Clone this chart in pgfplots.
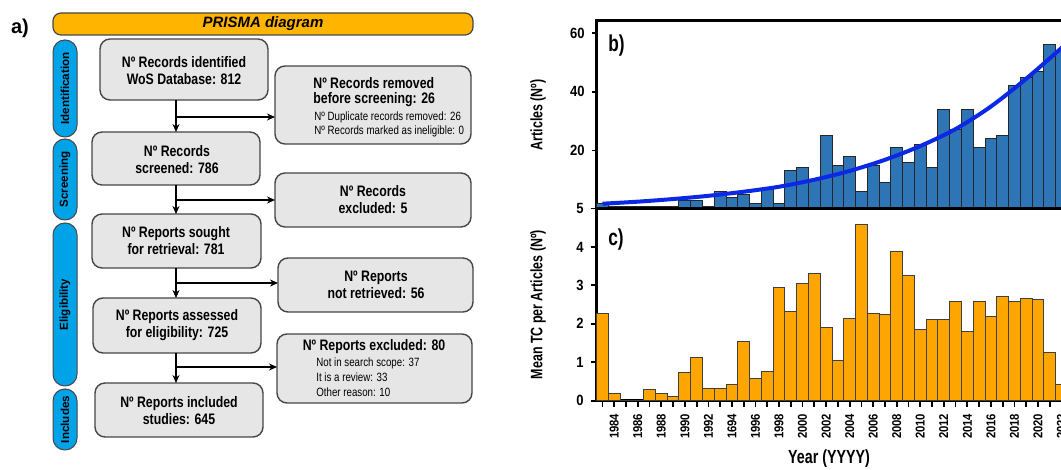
\documentclass[border=0pt]{standalone}
\usepackage{fontspec}
\setmainfont{Liberation Sans}[FakeStretch=0.81]
\newfontfamily\plainfont{Liberation Sans}
\newfontfamily\axfont{Liberation Sans}[FakeStretch=0.75]
\newfontfamily\tkfont{Liberation Sans}[FakeStretch=0.88]
\usepackage{pgfplots}
\usepackage{pgfplotstable}
\pgfplotsset{compat=1.18}
\usetikzlibrary{arrows.meta}
\definecolor{hdrorange}{RGB}{255,180,0}
\definecolor{pillblue}{RGB}{0,162,232}
\definecolor{boxgray}{RGB}{230,230,230}
\definecolor{boxedge}{RGB}{70,70,70}
\definecolor{barblue}{RGB}{46,117,182}
\definecolor{barorange}{RGB}{255,165,0}
\definecolor{fitblue}{RGB}{10,40,230}

\pgfplotstableread{
year n
1983 2
1984 1
1985 1
1986 1
1987 1
1988 1
1989 1
1990 3
1991 3
1992 1
1993 6
1994 4
1995 5
1996 2
1997 7
1998 2
1999 13
2000 14
2001 10
2002 25
2003 15
2004 18
2005 6
2006 15
2007 9
2008 21
2009 16
2010 22
2011 14
2012 34
2013 27
2014 34
2015 21
2016 24
2017 25
2018 42
2019 45
2020 47
2021 56
2022 54
}\articles

\pgfplotstableread{
year tc
1983 2.28
1984 0.20
1985 0
1986 0
1987 0.28
1988 0.18
1989 0.10
1990 0.73
1991 1.13
1992 0.31
1993 0.33
1994 0.41
1995 1.55
1996 0.58
1997 0.75
1998 2.94
1999 2.33
2000 3.05
2001 3.31
2002 1.91
2003 1.04
2004 2.13
2005 4.59
2006 2.27
2007 2.24
2008 3.87
2009 3.26
2010 1.86
2011 2.12
2012 2.12
2013 2.58
2014 1.81
2015 2.59
2016 2.20
2017 2.70
2018 2.59
2019 2.67
2020 2.63
2021 1.25
2022 0.42
}\meantc

\begin{document}
\begin{tikzpicture}[x=0.5pt,y=0.5pt]
\useasboundingbox (0,0) rectangle (1061,470);
\clip (0,0) rectangle (1061,470);

% ---------- PRISMA diagram ----------
\tikzset{
  gbox/.style={draw=boxedge, line width=0.7pt, fill=boxgray, rounded corners=5pt},
  pill/.style={draw=boxedge, line width=0.5pt, fill=pillblue, rounded corners=5.9pt},
  mt/.style={inner sep=0pt, align=center, font=\bfseries\fontsize{7.6}{8.5}\selectfont},
  st/.style={inner sep=0pt, anchor=west, font=\fontsize{6}{7}\selectfont},
  arr/.style={line width=0.8pt, -{Stealth[length=4pt,width=3.5pt]}}
}
\node[inner sep=0pt, font=\plainfont\bfseries\fontsize{10}{12}\selectfont] at (20,442) {a)};
\draw[draw=boxedge, line width=0.6pt, fill=hdrorange, rounded corners=4pt] (53,457) rectangle (473,435);
\node[inner sep=0pt, font=\plainfont\bfseries\itshape\fontsize{7.5}{9}\selectfont] at (263,446) {PRISMA diagram};

\draw[pill] (53,430) rectangle (77,333);
\node[rotate=90, inner sep=0pt, font=\plainfont\bfseries\fontsize{5.8}{7}\selectfont] at (65,381.5) {Identification};
\draw[pill] (53,331) rectangle (77,250);
\node[rotate=90, inner sep=0pt, font=\plainfont\bfseries\fontsize{5.8}{7}\selectfont] at (65,290.5) {Screening};
\draw[pill] (53,247) rectangle (77,84);
\node[rotate=90, inner sep=0pt, font=\plainfont\bfseries\fontsize{5.8}{7}\selectfont] at (65,165.5) {Eligibility};
\draw[pill] (53,81) rectangle (77,20);
\node[rotate=90, inner sep=0pt, font=\plainfont\bfseries\fontsize{5.8}{7}\selectfont] at (65,50.5) {Includes};

\draw[gbox] (100,431) rectangle (268,370);
\node[mt] at (184,399.5) {Nº Records identified\\WoS Database: 812};
\draw[gbox] (92,338) rectangle (260,285);
\node[mt] at (177,310.5) {Nº Records\\screened: 786};
\draw[gbox] (92,256) rectangle (261,202);
\node[mt] at (176,229) {Nº Reports sought\\for retrieval: 781};
\draw[gbox] (93,172) rectangle (261,117);
\node[mt] at (177,144.5) {Nº Reports assessed\\for eligibility: 725};
\draw[gbox] (95,87) rectangle (263,33);
\node[mt] at (179,59) {Nº Reports included\\studies: 645};

\draw[gbox] (275,404) rectangle (471,326);
\node[mt, anchor=west] at (313,387) {Nº Records removed};
\node[mt, anchor=west] at (313,370) {before screening: 26};
\node[st] at (314,353) {Nº Duplicate records removed: 26};
\node[st] at (314,339) {Nº Records marked as ineligible: 0};
\draw[gbox] (275,297) rectangle (471,243);
\node[mt] at (373,270) {Nº Records\\excluded: 5};
\draw[gbox] (278,212) rectangle (473,158);
\node[mt] at (376,185) {Nº Reports\\not retrieved: 56};
\draw[gbox] (277,136) rectangle (472,67);
\node[mt] at (374,123) {Nº Reports excluded: 80};
\node[st] at (316,107) {Not in search scope: 37};
\node[st] at (316,93) {It is a review: 33};
\node[st] at (316,78) {Other reason: 10};

\draw[arr] (176,370) -- (176,338);
\draw[arr] (176,353) -- (275,353);
\draw[arr] (176,285) -- (176,256);
\draw[arr] (176,270) -- (275,270);
\draw[arr] (176,202) -- (176,172);
\draw[arr] (176,187) -- (278,187);
\draw[arr] (176,117) -- (176,87);
\draw[arr] (176,103) -- (277,103);

% ---------- charts ----------
\pgfplotsset{
  chart/.style={
    scale only axis, width=241.3pt, anchor=south west,
    xmin=1982.5, xmax=2023.5, ymin=0,
    axis line style={line width=1.2pt},
    tick align=outside, ytick pos=left,
    major tick length=2.5pt,
    every tick/.style={black, line width=0.9pt},
    /pgf/number format/assume math mode=true,
    yticklabel style={font=\tkfont\bfseries\fontsize{7.4}{8}\selectfont},
    ylabel style={font=\axfont\bfseries\fontsize{8.3}{10}\selectfont, at={(axis description cs:-0.1214,0.5)}, anchor=center},
  }
}
\begin{axis}[chart, at={(298.3pt,130.5pt)}, height=94.15pt, ymax=64.3,
  xtick=\empty, ytick={20,40,60}, ylabel={Articles (Nº)}]
\addplot[ybar, bar width=1, bar shift=0, fill=barblue, draw=black!85, line width=0.5pt] table[x=year,y=n]{\articles};
\addplot[smooth, line width=2pt, color=fitblue] coordinates {(1983,1.8) (1986,2.5) (1989,3.4) (1992,4.5) (1995,5.9) (1998,7.6) (2001,10) (2004,13) (2007,16.8) (2010,21.5) (2013,27.3) (2016,35) (2019,44.5) (2022,55) (2023,58.8)};
\node[anchor=west, inner sep=0pt, font=\axfont\bfseries\fontsize{11.5}{12}\selectfont] at (axis description cs:0.0236,0.866) {b)};
\end{axis}

\begin{axis}[chart, at={(298.3pt,34.65pt)}, height=96.1pt, ymax=5,
  ytick={0,1,2,3,4,5}, xtick pos=bottom,
  xtick={1983,1984,...,2023},
  xticklabels={{},1984,{},1986,{},1988,{},1990,{},1992,{},1694,{},1996,{},1998,{},2000,{},2002,{},2004,{},2006,{},2008,{},2010,{},2012,{},2014,{},2016,{},2018,{},2020,{},2022,{}},
  major tick length=3pt,
  xticklabel style={rotate=90, anchor=east, font=\tkfont\bfseries\fontsize{6.4}{7}\selectfont},
  ylabel={Mean TC per Articles (Nº)},
  xlabel={Year (YYYY)},
  xlabel style={font=\axfont\bfseries\fontsize{9.5}{11}\selectfont, at={(axis description cs:0.4816,0)}, anchor=center, yshift=-29pt}]
\addplot[ybar, bar width=1, bar shift=0, fill=barorange, draw=black!75, line width=0.5pt] table[x=year,y=tc]{\meantc};
\node[anchor=west, inner sep=0pt, font=\axfont\bfseries\fontsize{11.5}{12}\selectfont] at (axis description cs:0.0236,0.836) {c)};
\end{axis}
\end{tikzpicture}
\end{document}
